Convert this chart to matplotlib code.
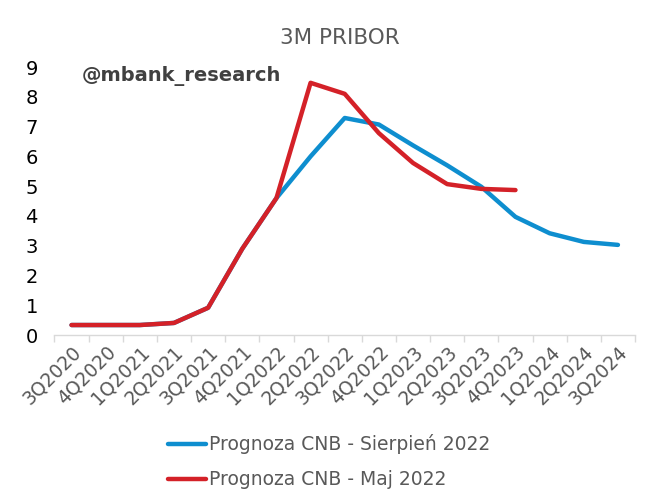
import matplotlib.pyplot as plt
import numpy as np

# dane z wykresu (3M PRIBOR, prognozy CNB)
quarters = ['3Q2020', '4Q2020', '1Q2021', '2Q2021', '3Q2021', '4Q2021',
            '1Q2022', '2Q2022', '3Q2022', '4Q2022', '1Q2023', '2Q2023',
            '3Q2023', '4Q2023', '1Q2024', '2Q2024', '3Q2024']
cnb_aug = [0.34, 0.34, 0.34, 0.41, 0.92, 2.9, 4.6, 6.0, 7.29, 7.07,
           6.37, 5.7, 4.98, 3.97, 3.42, 3.13, 3.03]
cnb_may = [0.34, 0.34, 0.34, 0.41, 0.92, 2.9, 4.6, 8.47, 8.1, 6.78,
           5.78, 5.07, 4.91, 4.87]

plt.rcParams['font.family'] = ['DejaVu Sans']

fig = plt.figure(figsize=(6.56, 5.04), dpi=100)
ax = fig.add_axes([0.083, 0.335, 0.885, 0.532])

x_aug = np.arange(len(cnb_aug))
x_may = np.arange(len(cnb_may))
ax.plot(x_aug, cnb_aug, color='#0E8ECF', lw=3.2, label='Prognoza CNB - Sierpień 2022',
        solid_capstyle='round')
ax.plot(x_may, cnb_may, color='#D42128', lw=3.2, label='Prognoza CNB - Maj 2022',
        solid_capstyle='round')

ax.set_xlim(-0.5, len(quarters) - 0.5)
ax.set_ylim(0, 9)
ax.set_yticks(range(0, 10))
ax.tick_params(axis='y', length=0, labelsize=14, labelcolor='#000000', pad=12)

ax.set_xticks(np.arange(len(quarters)))
ax.set_xticklabels(quarters, rotation=45, ha='right', rotation_mode='anchor',
                   fontsize=13.5, color='#595959')
ax.tick_params(axis='x', which='major', length=0, pad=5)
ax.set_xticks(np.arange(-0.5, len(quarters)), minor=True)
ax.tick_params(axis='x', which='minor', length=5, color='#D9D9D9', width=1)

for s in ['top', 'right', 'left']:
    ax.spines[s].set_visible(False)
ax.spines['bottom'].set_color('#D9D9D9')
ax.spines['bottom'].set_linewidth(1)

fig.text(0.518, 0.925, '3M PRIBOR', ha='center', va='center', fontsize=15.5, color='#595959')
fig.text(0.125, 0.85, '@mbank_research', ha='left', va='center', fontsize=14,
         fontweight='bold', color='#404040')

leg = fig.legend(loc='upper left', bbox_to_anchor=(0.245, 0.153), frameon=False,
                 fontsize=13.5, handlelength=2.0, handletextpad=0.15, labelspacing=0.85,
                 borderaxespad=0)
for t in leg.get_texts():
    t.set_color('#595959')

fig.savefig('out.png', dpi=100)
